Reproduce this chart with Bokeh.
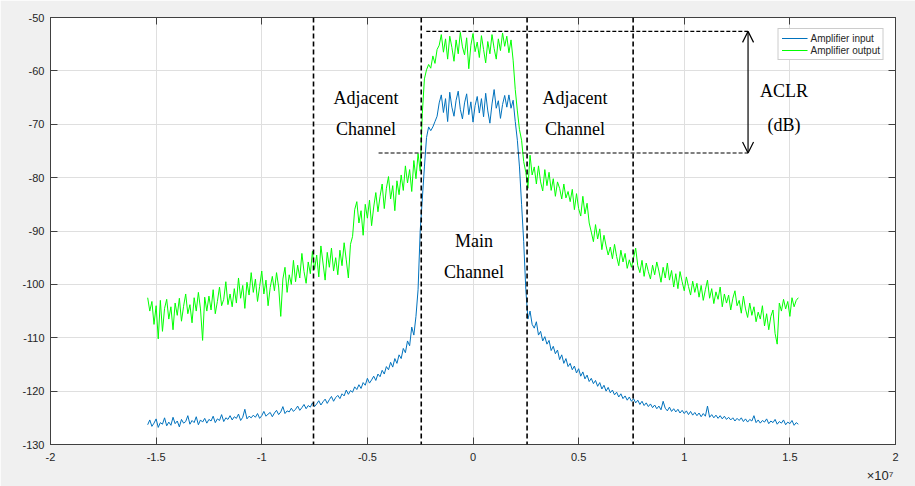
import numpy as np
from bokeh.plotting import figure
from bokeh.models import Range1d, LinearAxis, FixedTicker, Span, Arrow, OpenHead, Label, Title
from bokeh.embed import file_html
from bokeh.resources import INLINE

# ---------------- data (frequency in units of 1e7 Hz, power in dB) ----------------
freq_first, freq_last = -1.54, 1.54

amp_input = [
    -126.3, -125.4, -126.6, -126.0, -125.2, -126.8, -125.9, -126.2, -125.0, -126.5,
    -125.8, -126.4, -124.9, -126.1, -125.6, -126.7, -125.3, -126.0, -125.7, -124.6,
    -126.2, -125.5, -125.9, -124.8, -126.3, -125.4, -125.8, -125.1, -126.0, -125.3,
    -125.6, -124.7, -125.9, -125.2, -125.5, -124.4, -125.7, -125.0, -125.3, -124.6,
    -125.4, -124.8, -125.1, -124.3, -125.5, -124.9, -123.4, -125.2, -124.7, -125.0,
    -124.5, -124.9, -124.2, -125.1, -124.6, -123.8, -124.7, -124.3, -124.0, -124.8,
    -124.1, -123.6, -124.4, -123.9, -122.9, -124.2, -123.7, -123.9, -123.2, -123.8,
    -123.4, -122.8, -123.6, -123.1, -122.5, -123.3, -122.7, -123.0, -122.2, -122.9,
    -122.4, -121.8, -122.6, -122.0, -121.5, -122.3, -121.6, -121.0, -121.9, -121.2,
    -120.8, -121.4, -120.5, -120.9, -119.8, -120.6, -119.9, -120.2, -119.2, -119.7,
    -118.8, -119.5, -118.4, -118.9, -117.6, -118.5, -117.9, -117.2, -118.0, -116.8,
    -117.3, -116.1, -116.8, -115.4, -116.0, -114.6, -115.5, -113.9, -114.8, -113.2,
    -113.9, -112.0, -112.8, -110.6, -111.5, -108.0, -109.5, -106.0, -101.0, -90.0,
    -84.0, -78.0, -72.5, -70.5, -71.2, -70.5, -69.5, -68.5, -66.0, -64.5,
    -67.8, -65.2, -69.5, -64.0, -66.8, -68.5, -65.5, -63.8, -67.2, -69.0,
    -66.0, -64.3, -68.2, -65.8, -69.6, -66.5, -64.8, -67.9, -65.2, -68.6,
    -64.2, -67.5, -69.8, -66.2, -63.5, -67.0, -65.6, -68.9, -66.3, -64.6,
    -66.8, -64.5, -67.0, -65.5, -69.5, -73.0, -78.0, -85.0, -92.0, -101.0,
    -106.5, -105.0, -107.5, -108.2, -107.0, -109.5, -108.8, -110.6, -109.8, -111.2,
    -110.5, -112.4, -111.6, -113.0, -112.3, -114.1, -113.2, -114.8, -113.9, -115.4,
    -114.8, -116.0, -115.3, -116.6, -115.8, -117.2, -116.4, -117.7, -117.0, -118.2,
    -117.6, -118.6, -118.0, -119.1, -118.4, -119.6, -118.9, -120.0, -119.3, -120.3,
    -119.8, -120.7, -120.2, -121.1, -120.5, -121.4, -120.9, -121.7, -121.1, -121.9,
    -121.4, -122.2, -121.7, -122.5, -121.9, -122.7, -122.2, -122.9, -122.4, -123.1,
    -122.6, -123.3, -122.8, -123.5, -121.9, -123.2, -123.7, -123.0, -123.8, -123.3,
    -123.9, -123.4, -124.1, -123.6, -124.2, -123.7, -124.4, -123.8, -124.5, -124.0,
    -124.6, -124.1, -124.8, -124.2, -124.7, -122.8, -124.9, -124.4, -125.0, -124.5,
    -125.1, -124.6, -125.2, -124.7, -125.3, -124.9, -125.4, -125.0, -125.6, -125.1,
    -125.5, -125.0, -125.7, -125.2, -125.8, -125.3, -125.6, -124.6, -125.9, -125.4,
    -126.0, -125.5, -125.8, -125.2, -126.1, -125.6, -125.9, -125.3, -126.2, -125.7,
    -126.0, -125.4, -126.3, -125.8, -126.1, -125.5, -126.4, -125.9, -126.2,
]

amp_output = [
    -102.5, -105.0, -103.2, -107.5, -104.0, -110.2, -103.0, -108.8, -104.5, -102.8,
    -106.5, -104.2, -108.5, -103.5, -105.8, -102.6, -106.9, -104.1, -101.8, -105.5,
    -103.8, -107.2, -102.5, -105.0, -101.5, -104.6, -110.5, -102.4, -105.0, -102.2,
    -104.8, -101.0, -105.5, -103.2, -100.5, -104.0, -102.8, -99.5, -103.8, -101.8,
    -104.2, -100.8, -103.5, -98.8, -102.6, -100.2, -104.5, -99.6, -102.0, -97.8,
    -101.5, -99.0, -103.2, -100.4, -97.5, -101.8, -99.2, -104.0, -100.6, -98.5,
    -101.2, -97.8, -100.5, -106.0, -99.0, -96.8, -101.5, -98.2, -100.0, -95.5,
    -99.5, -96.4, -98.8, -94.2, -97.6, -99.8, -95.8, -98.0, -93.8, -97.2,
    -94.5, -98.6, -92.8, -96.0, -99.2, -94.0, -96.8, -93.2, -97.5, -95.0,
    -98.2, -93.6, -96.5, -92.2, -95.4, -98.8, -92.5, -91.0, -86.0, -84.5,
    -88.5, -86.2, -90.8, -85.0, -87.6, -84.2, -89.0, -85.5, -82.8, -86.4,
    -83.5, -81.2, -85.8, -82.0, -79.8, -84.0, -81.5, -86.2, -80.6, -83.2,
    -79.5, -82.4, -77.8, -81.0, -78.5, -82.6, -76.8, -80.2, -75.5, -78.8,
    -68.0, -61.5, -59.8, -58.8, -59.5, -57.2, -58.6, -56.0, -55.2, -53.2,
    -56.5, -54.0, -57.8, -53.5, -55.6, -58.2, -54.2, -56.8, -52.8, -55.5,
    -57.0, -53.8, -59.6, -55.2, -53.0, -56.4, -54.6, -57.5, -53.4, -56.0,
    -58.5, -54.5, -56.8, -53.2, -55.8, -57.8, -54.0, -56.2, -52.9, -55.4,
    -53.5, -56.6, -54.2, -58.0, -63.5, -67.5, -71.0, -73.0, -77.0, -79.0,
    -82.0, -75.8, -79.5, -78.0, -81.2, -77.8, -80.8, -82.5, -78.5, -81.5,
    -79.0, -82.4, -80.2, -83.5, -80.8, -82.0, -84.0, -81.2, -83.8, -82.6,
    -84.5, -82.2, -86.0, -83.0, -85.8, -87.2, -83.5, -86.8, -84.8, -88.5,
    -90.2, -92.0, -88.8, -91.5, -89.6, -93.5, -90.8, -92.8, -94.5, -93.0,
    -95.2, -92.5, -94.8, -96.5, -93.6, -95.8, -94.2, -97.0, -95.4, -96.8,
    -95.0, -93.2, -96.5, -97.8, -95.5, -98.5, -96.0, -97.6, -99.0, -96.4,
    -98.2, -95.8, -97.5, -99.6, -96.8, -98.8, -96.0, -99.2, -97.4, -100.5,
    -98.0, -100.8, -97.6, -99.5, -101.2, -98.6, -100.4, -102.0, -99.4, -101.5,
    -99.8, -102.4, -100.2, -103.0, -101.0, -99.2, -102.6, -100.8, -103.6, -101.4,
    -102.8, -100.5, -104.2, -101.8, -103.5, -102.0, -104.8, -102.6, -101.2, -104.0,
    -103.0, -105.4, -102.2, -104.6, -106.2, -103.5, -105.8, -104.2, -107.0, -105.2,
    -106.5, -104.0, -107.8, -105.5, -108.5, -106.0, -104.8, -109.2, -111.2, -103.5,
    -105.0, -102.8, -104.6, -103.2, -106.0, -102.5, -104.2, -103.0, -102.5,
]

series_names = ["Amplifier input", "Amplifier output"]

x_ticks = [-2, -1.5, -1, -0.5, 0, 0.5, 1, 1.5, 2]
x_tick_labels = ["-2", "-1.5", "-1", "-0.5", "0", "0.5", "1", "1.5", "2"]
x_exponent_label = "×10⁷"
y_ticks = [-130, -120, -110, -100, -90, -80, -70, -60, -50]
y_tick_labels = ["-130", "-120", "-110", "-100", "-90", "-80", "-70", "-60", "-50"]

channel_edges = [-0.755, -0.245, 0.256, 0.758]
aclr_levels = [-52.6, -75.4]
aclr_line_starts = [-0.221, -0.447]
aclr_x = 1.302

region_texts = ["Adjacent", "Channel", "Adjacent", "Channel", "Main", "Channel", "ACLR", "(dB)"]
region_text_x = [-0.506, -0.506, 0.483, 0.483, 0.005, 0.005, 1.472, 1.472]
region_text_y = [-65.15, -70.95, -65.15, -70.95, -91.95, -97.75, -63.75, -70.2]

# ---------------- figure ----------------
freq_in = np.linspace(freq_first, freq_last, len(amp_input))
freq_out = np.linspace(freq_first, freq_last, len(amp_output))

AX = "#404040"
p = figure(width=915, height=486, output_backend="svg", toolbar_location=None,
           x_range=Range1d(-2, 2), y_range=Range1d(-130, -50),
           min_border_left=50, min_border_right=20, min_border_top=17, min_border_bottom=42,
           background_fill_color="white", border_fill_color="#f0f0f0",
           outline_line_color=AX, outline_line_width=1)

p.line(freq_in, amp_input, line_color="#0072BD", line_width=1, legend_label=series_names[0])
p.line(freq_out, amp_output, line_color="#00FF00", line_width=1, legend_label=series_names[1])

def style_axis(ax, ticks, labels, show_labels=True):
    ax.ticker = FixedTicker(ticks=ticks)
    ax.major_label_overrides = {t: l for t, l in zip(ticks, labels)}
    ax.major_tick_in = 7
    ax.major_tick_out = 0
    ax.minor_tick_line_color = None
    ax.major_tick_line_color = AX
    ax.axis_line_color = AX
    ax.major_label_text_font = "Liberation Sans"
    ax.major_label_text_color = "#262626"
    if show_labels:
        ax.major_label_text_font_size = "11px"
    else:
        ax.major_label_text_font_size = "1px"
        ax.major_label_text_alpha = 0
        ax.major_label_standoff = 0

style_axis(p.xaxis[0], x_ticks, x_tick_labels)
style_axis(p.yaxis[0], y_ticks, y_tick_labels)
p.xaxis[0].major_label_standoff = 8
p.yaxis[0].major_label_standoff = 6

top_ax = LinearAxis()
right_ax = LinearAxis()
style_axis(top_ax, x_ticks, x_tick_labels, show_labels=False)
style_axis(right_ax, y_ticks, y_tick_labels, show_labels=False)
p.add_layout(top_ax, "above")
p.add_layout(right_ax, "right")

# exponent of the x axis, shown under the right end of the axis
p.add_layout(Title(text=x_exponent_label, align="right", text_font="Liberation Sans",
                   text_font_size="13px", text_font_style="normal", text_color="#262626",
                   standoff=5, offset=2), "below")

p.xgrid.ticker = FixedTicker(ticks=x_ticks)
p.ygrid.ticker = FixedTicker(ticks=y_ticks)
p.grid.grid_line_color = "#dfdfdf"
p.grid.grid_line_width = 1

# channel boundaries
for xe in channel_edges:
    p.add_layout(Span(location=xe, dimension="height", line_color="black",
                      line_width=1.6, line_dash="5 3"))

# ACLR reference levels
p.segment(x0=aclr_line_starts, y0=aclr_levels, x1=[aclr_x, aclr_x], y1=aclr_levels,
          line_color="black", line_width=1.1, line_dash="4 2")

p.add_layout(Arrow(start=OpenHead(size=11, line_width=1.2, line_color="black"),
                   end=OpenHead(size=11, line_width=1.2, line_color="black"),
                   x_start=aclr_x, y_start=aclr_levels[1], x_end=aclr_x, y_end=aclr_levels[0],
                   line_color="black", line_width=1.2))

for t, tx, ty in zip(region_texts, region_text_x, region_text_y):
    p.add_layout(Label(x=tx, y=ty, text=t, text_align="center", text_baseline="alphabetic",
                       text_font="Liberation Serif", text_font_size="18px", text_color="black"))

lg = p.legend[0]
lg.location = "top_right"
lg.margin = 11
lg.padding = 3
lg.spacing = 0
lg.label_height = 12
lg.glyph_height = 12
lg.glyph_width = 26
lg.label_standoff = 3
lg.label_text_font = "Liberation Sans"
lg.label_text_font_size = "10px"
lg.label_text_color = "#262626"
lg.border_line_color = "#9a9a9a"
lg.border_line_width = 1
lg.background_fill_color = "white"
lg.background_fill_alpha = 1

open("out.html", "w").write(file_html(p, INLINE))
